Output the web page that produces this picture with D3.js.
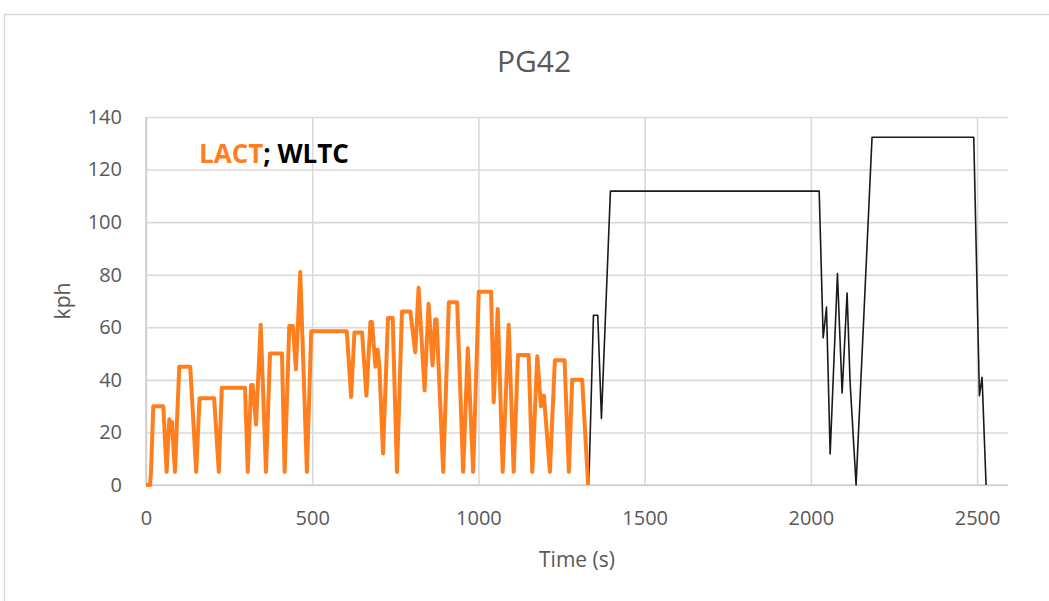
<!DOCTYPE html>
<html>
<head>
<meta charset="utf-8">
<script src="https://cdn.jsdelivr.net/npm/d3@7/dist/d3.min.js"></script>
<style>
  html, body { margin: 0; padding: 0; background: #ffffff; }
  svg { display: block; }
  text { font-family: "Open Sans", "Noto Sans", sans-serif; }
</style>
</head>
<body>
<svg id="chart" width="1049" height="601"></svg>
<script>
// LACT drive cycle (orange), time in s and speed in kph
const lactTime = [0, 12, 15, 22, 52, 62, 70, 74, 78, 87, 100, 133, 151, 161, 205, 219, 228, 298, 306, 316,
  321, 331, 345, 361, 373, 409, 417, 431, 442, 451, 464, 484, 497, 604, 617, 627, 650, 663, 675, 680,
  690, 697, 702, 713, 728, 742, 755, 770, 795, 810, 820, 838, 850, 862, 870, 874, 894, 911, 936, 954,
  968, 984, 1001, 1038, 1046, 1058, 1073, 1091, 1106, 1119, 1151, 1162, 1177, 1188, 1193, 1197, 1215, 1230, 1259, 1272,
  1282, 1312, 1330];
const lactSpeed = [0, 0, 5, 30, 30, 5, 25, 21, 24, 5, 45, 45, 5, 33, 33, 5, 37, 37, 5, 38,
  38, 23, 61, 5, 50, 50, 5, 60.5, 60.5, 44, 81, 5, 58.5, 58.5, 33.5, 58, 58, 34, 62, 62,
  45, 51.5, 45, 12, 63.5, 63.5, 5, 66, 66, 50.5, 75, 36, 69, 45.5, 63, 63, 5, 69.5, 69.5, 5,
  52, 5, 73.5, 73.5, 31.5, 67, 5, 61, 5, 49.5, 49.5, 5, 49, 30, 34, 34, 5, 47.5, 47.5, 5,
  40, 40, 0];

// WLTC drive cycle (black)
const wltcTime = [1332, 1346, 1359, 1370, 1397, 2025, 2037, 2047, 2058, 2080, 2094, 2109, 2118, 2136, 2184, 2490, 2507, 2515, 2527];
const wltcSpeed = [0, 64.6, 64.6, 25.3, 111.8, 111.8, 56, 67.7, 11.8, 80.4, 35, 73, 39, 0, 132.3, 132.3, 34, 41, 0];

const xTicks = [0, 500, 1000, 1500, 2000, 2500];
const yTicks = [0, 20, 40, 60, 80, 100, 120, 140];

const svg = d3.select("#chart");
const W = 1049, H = 601;
const margin = { left: 146, top: 117, right: W - 1008, bottom: H - 485 };
const iw = W - margin.left - margin.right;
const ih = H - margin.top - margin.bottom;

// chart-area frame
svg.append("rect")
  .attr("x", 4.5).attr("y", 14.5)
  .attr("width", 1200).attr("height", 800)
  .attr("fill", "#ffffff")
  .attr("stroke", "#d9d9d9").attr("stroke-width", 1.5);

const x = d3.scaleLinear().domain([0, 2593]).range([0, iw]);
const y = d3.scaleLinear().domain([0, 140]).range([ih, 0]);

const g = svg.append("g").attr("transform", `translate(${margin.left},${margin.top})`);

// gridlines
const gx = g.append("g").attr("transform", `translate(0,${ih})`)
  .call(d3.axisBottom(x).tickValues(xTicks).tickSize(-ih).tickFormat(""));
const gy = g.append("g")
  .call(d3.axisLeft(y).tickValues(yTicks).tickSize(-iw).tickFormat(""));
[gx, gy].forEach(a => {
  a.select(".domain").remove();
  a.selectAll(".tick line").attr("stroke", "#d9d9d9").attr("stroke-width", 1.6);
});

// axis baselines
g.append("line").attr("x1", 0).attr("x2", iw).attr("y1", ih).attr("y2", ih)
  .attr("stroke", "#cfcfcf").attr("stroke-width", 1.6);
g.append("line").attr("x1", 0).attr("x2", 0).attr("y1", 0).attr("y2", ih)
  .attr("stroke", "#cfcfcf").attr("stroke-width", 1.6);

// tick labels
const ax = g.append("g").attr("transform", `translate(0,${ih})`)
  .call(d3.axisBottom(x).tickValues(xTicks).tickSize(0).tickPadding(0).tickFormat(d3.format("d")));
ax.select(".domain").remove();
ax.selectAll("text").attr("y", 40).attr("dy", null)
  .attr("fill", "#595959").style("font-size", "20px");

const ay = g.append("g")
  .call(d3.axisLeft(y).tickValues(yTicks).tickSize(0).tickPadding(24).tickFormat(d3.format("d")));
ay.select(".domain").remove();
ay.selectAll("text").attr("fill", "#595959").style("font-size", "20px");

// series lines
const line = d3.line().x(d => x(d[0])).y(d => y(d[1]));
const wltc = wltcTime.map((t, i) => [t, wltcSpeed[i]]);
const lact = lactTime.map((t, i) => [t, lactSpeed[i]]);

g.append("path").datum(wltc).attr("d", line)
  .attr("fill", "none").attr("stroke", "#1a1a1a").attr("stroke-width", 1.6)
  .attr("stroke-linejoin", "round");
g.append("path").datum(lact).attr("d", line)
  .attr("fill", "none").attr("stroke", "#ff7f1f").attr("stroke-width", 4)
  .attr("stroke-linejoin", "round");

// title
svg.append("text").attr("x", 534).attr("y", 72).attr("text-anchor", "middle")
  .attr("fill", "#595959").style("font-size", "30px").text("PG42");

// axis titles
svg.append("text").attr("x", margin.left + iw / 2).attr("y", 567).attr("text-anchor", "middle")
  .attr("fill", "#595959").style("font-size", "21px").text("Time (s)");
svg.append("text").attr("transform", "translate(70,301) rotate(-90)").attr("text-anchor", "middle")
  .attr("fill", "#595959").style("font-size", "21px").text("kph");

// in-plot legend
const leg = svg.append("text").attr("x", 199).attr("y", 163)
  .style("font-size", "26px").style("font-weight", "bold");
leg.append("tspan").attr("fill", "#ff7f1f").text("LACT");
leg.append("tspan").attr("fill", "#000000").text("; WLTC");
</script>
</body>
</html>
